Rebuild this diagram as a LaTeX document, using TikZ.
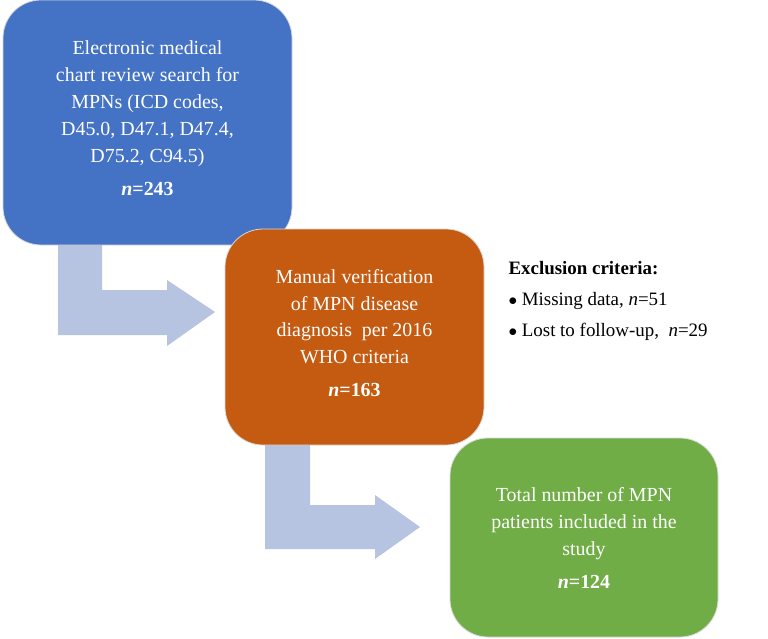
\documentclass[tikz,border=0pt]{standalone}
\usepackage{fontspec}
\setmainfont{Liberation Serif}
\begin{document}
\begin{tikzpicture}[x=1bp,y=-1bp,
  box/.style={draw=white!85!black,line width=0.8bp,rounded corners=38bp,text=white,align=center,font=\fontsize{20}{27}\selectfont},
  arr/.style={fill=arrc,draw=none}]
\definecolor{arrc}{HTML}{B7C4E1}
\definecolor{cb}{HTML}{4472C4}
\definecolor{co}{HTML}{C55A11}
\definecolor{cg}{HTML}{70AD47}
\useasboundingbox (0,0) rectangle (768,639);
% arrows
\fill[arrc] (58,245) -- (102,245) -- (102,290) -- (167,290) -- (167,280) -- (215,312) -- (167,346) -- (167,335) -- (58,335) -- cycle;
\fill[arrc] (265,445) -- (310,445) -- (310,505) -- (375,505) -- (375,495) -- (420,527) -- (375,559) -- (375,549) -- (265,549) -- cycle;
\path[box,fill=cb] (3,0) rectangle (292,245);
\node[box,draw=none] (b1) at (147.5,118) {Electronic medical\\chart review search for\\MPNs (ICD codes,\\D45.0, D47.1, D47.4,\\D75.2, C94.5)\\[6bp]\textbf{\textit{n}=243}};
\path[box,fill=co] (225,229) rectangle (484,445);
\node[box,draw=none] (b2) at (354.5,333) {Manual verification\\of MPN disease\\diagnosis~ per 2016\\WHO criteria\\[6bp]\textbf{\textit{n}=163}};
\path[box,fill=cg] (450,438) rectangle (718,637);
\node[box,draw=none] (b3) at (584,538) {Total number of MPN\\patients included in the\\study\\[6bp]\textbf{\textit{n}=124}};
\node[anchor=north west,align=left,font=\fontsize{19}{31}\selectfont] (ex) at (505,258) {\textbf{Exclusion criteria:}\\$\bullet$ Missing data, \textit{n}=51\\$\bullet$ Lost to follow-up, ~\textit{n}=29};
\end{tikzpicture}
\end{document}
